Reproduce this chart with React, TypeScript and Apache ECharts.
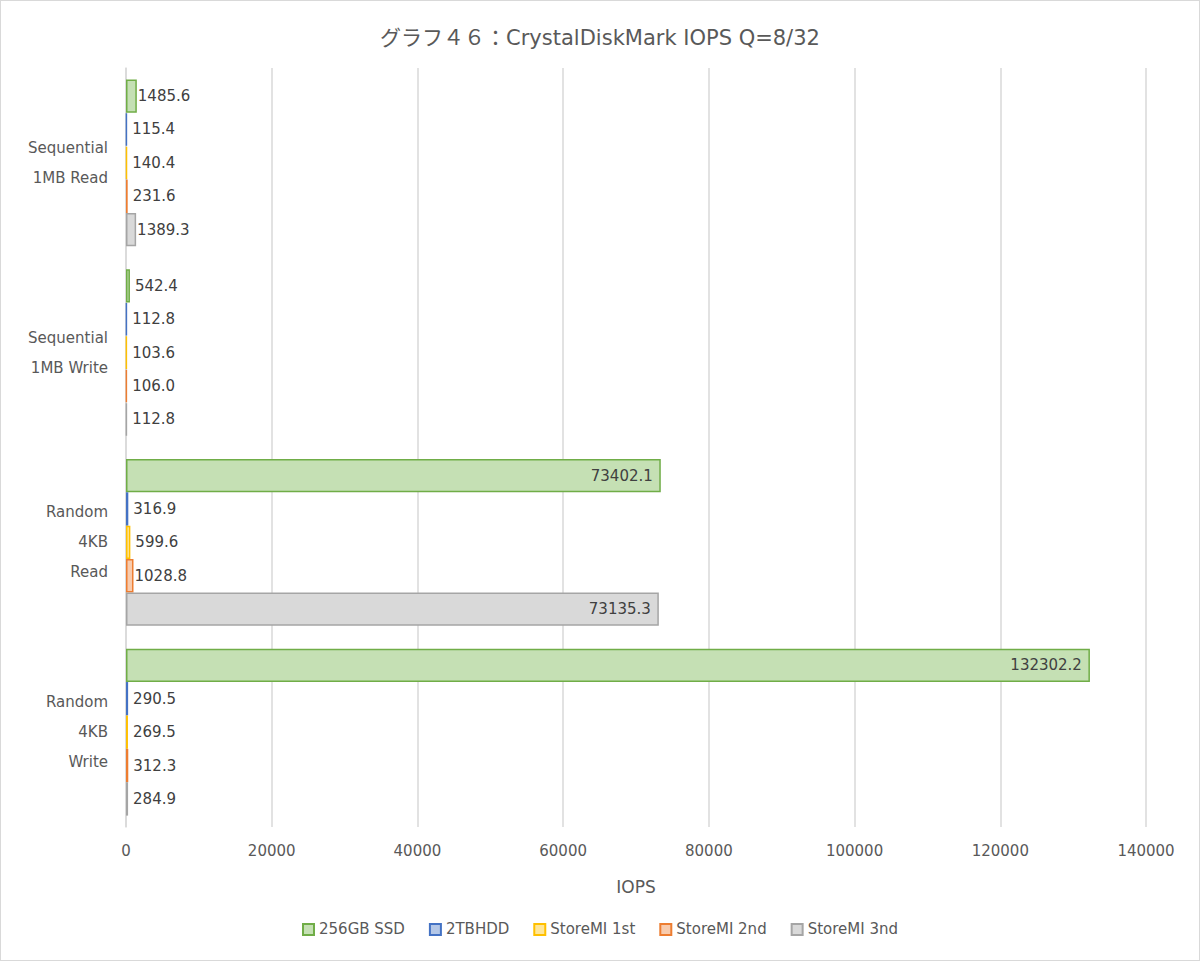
import React, { useEffect, useRef } from "react";
import * as echarts from "echarts";

const categories = ["Sequential\n1MB Read", "Sequential\n1MB Write", "Random\n4KB\nRead", "Random\n4KB\nWrite"];
const seriesNames = ["256GB SSD", "2TBHDD", "StoreMI 1st", "StoreMI 2nd", "StoreMI 3nd"];
const ssd = [1485.6, 542.4, 73402.1, 132302.2];
const hdd = [115.4, 112.8, 316.9, 290.5];
const storeMI1 = [140.4, 103.6, 599.6, 269.5];
const storeMI2 = [231.6, 106.0, 1028.8, 312.3];
const storeMI3 = [1389.3, 112.8, 73135.3, 284.9];
const fills = ["#c5e0b4", "#b4c7e7", "#ffe699", "#f8cbad", "#d9d9d9"];
const borders = ["#70ad47", "#4472c4", "#ffc000", "#ed7d31", "#a5a5a5"];

const FONT = "'DejaVu Sans', 'Noto Sans CJK JP', sans-serif";
const TITLE_FONT = "'DejaVu Sans', 'Noto Sans CJK JP', sans-serif";

export default function App() {
  const ref = useRef<HTMLDivElement>(null);
  useEffect(() => {
    document.body.style.margin = "0";
    const chart = echarts.init(ref.current!, null, { renderer: "svg" });
    const all = [ssd, hdd, storeMI1, storeMI2, storeMI3];
    chart.setOption({
      animation: false,
      backgroundColor: "#ffffff",
      textStyle: { fontFamily: FONT },
      title: {
        text: "グラフ４６：CrystalDiskMark IOPS Q=8/32",
        left: "center",
        top: 21,
        textStyle: { fontSize: 21, color: "#595959", fontWeight: "normal", fontFamily: TITLE_FONT },
      },
      legend: {
        bottom: 18,
        left: "center",
        itemWidth: 11,
        itemHeight: 11,
        itemGap: 24,
        icon: "rect",
        textStyle: { fontSize: 15, color: "#595959", fontFamily: FONT },
        data: seriesNames,
      },
      grid: { left: 125, right: 53, top: 67, bottom: 133 },
      xAxis: {
        type: "value",
        min: 0,
        max: 140000,
        interval: 20000,
        name: "IOPS",
        nameLocation: "middle",
        nameGap: 51,
        nameTextStyle: { fontSize: 17, color: "#595959", fontFamily: FONT },
        axisLabel: { fontSize: 15, color: "#595959", margin: 16, fontFamily: FONT, formatter: (v: number) => String(v) },
        axisLine: { show: false },
        axisTick: { show: false },
        splitLine: { lineStyle: { color: "#d9d9d9", width: 1.5 } },
      },
      yAxis: {
        type: "category",
        data: categories,
        inverse: true,
        axisLine: { show: true, lineStyle: { color: "#d9d9d9", width: 1.5 } },
        axisTick: { show: false },
        axisLabel: { fontSize: 15, color: "#595959", lineHeight: 30, margin: 18, fontFamily: FONT },
      },
      series: seriesNames.map((name, i) => ({
        name,
        type: "bar",
        data: all[i].map((v) => ({
          value: v,
          label:
            v > 20000
              ? { position: "insideRight", distance: 8 }
              : { position: "right", distance: v < 1000 ? 5 : 1 },
        })),
        barGap: "0%",
        barCategoryGap: "12%",
        itemStyle: { color: fills[i], borderColor: borders[i], borderWidth: 1.5 },
        label: {
          show: true,
          fontSize: 15,
          color: "#404040",
          fontFamily: FONT,
          formatter: (p: any) => Number(p.value).toFixed(1),
        },
      })),
    });
    return () => chart.dispose();
  }, []);
  return (
    <div
      ref={ref}
      style={{ width: 1200, height: 961, boxSizing: "border-box", border: "1px solid #d9d9d9" }}
    />
  );
}
